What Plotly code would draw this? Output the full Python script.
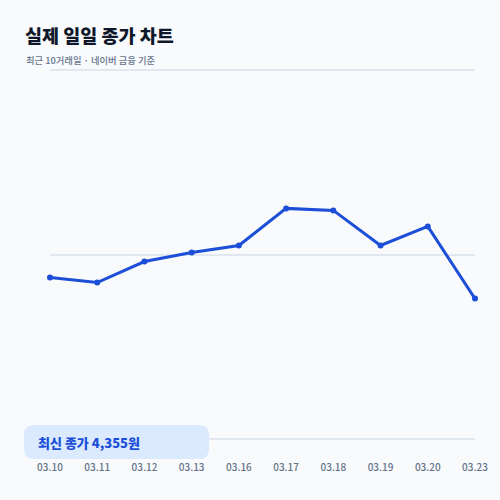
import plotly.graph_objects as go

dates = ["03.10", "03.11", "03.12", "03.13", "03.16", "03.17", "03.18", "03.19", "03.20", "03.23"]
closes = [4376, 4371, 4392, 4401, 4408, 4445, 4443, 4408, 4427, 4355]
grid_vals = [4215, 4399, 4583]

title_text = "실제 일일 종가 차트"
subtitle_text = "최근 10거래일 · 네이버 금융 기준"
badge_text = f"최신 종가 {closes[-1]:,}원"

W, H = 500, 500
ML, MR, MT, MB = 50, 25, 68, 59
PW, PH = W - ML - MR, H - MT - MB

def px(x):
    return (x - ML) / PW

def py(y):
    return (H - MB - y) / PH

FONT = "Noto Sans CJK KR"
BLUE = "#1d4ed8"

fig = go.Figure()
fig.add_trace(go.Scatter(
    x=dates, y=closes, mode="lines+markers",
    line=dict(color=BLUE, width=3),
    marker=dict(color=BLUE, size=6),
    cliponaxis=False, hoverinfo="skip", showlegend=False,
))

# rounded badge
x0, x1, y0, y1, r = 24, 209, 425, 459, 10
path = (
    f"M {px(x0+r)} {py(y0)} L {px(x1-r)} {py(y0)} Q {px(x1)} {py(y0)} {px(x1)} {py(y0+r)} "
    f"L {px(x1)} {py(y1-r)} Q {px(x1)} {py(y1)} {px(x1-r)} {py(y1)} "
    f"L {px(x0+r)} {py(y1)} Q {px(x0)} {py(y1)} {px(x0)} {py(y1-r)} "
    f"L {px(x0)} {py(y0+r)} Q {px(x0)} {py(y0)} {px(x0+r)} {py(y0)} Z"
)
fig.add_shape(type="path", path=path, xref="paper", yref="paper",
              fillcolor="#dbeafe", line=dict(width=0), layer="above")

fig.add_annotation(text=badge_text, x=px(36), y=py(442), xref="paper", yref="paper",
                   xanchor="left", yanchor="middle", showarrow=False,
                   font=dict(family=FONT, size=13, color=BLUE, weight=800))
fig.add_annotation(text=title_text, x=px(23), y=py(35), xref="paper", yref="paper",
                   xanchor="left", yanchor="middle", showarrow=False,
                   font=dict(family=FONT, size=18.5, color="#0f172a", weight=900))
fig.add_annotation(text=subtitle_text, x=px(24), y=py(60), xref="paper", yref="paper",
                   xanchor="left", yanchor="middle", showarrow=False,
                   font=dict(family=FONT, size=9.3, color="#64748b", weight=500))

fig.update_layout(
    width=W, height=H,
    margin=dict(l=ML, r=MR, t=MT, b=MB, pad=0),
    paper_bgcolor="#f8fafc", plot_bgcolor="#f8fafc",
    font=dict(family=FONT),
    xaxis=dict(type="category", range=[0, 9], showgrid=False, zeroline=False, showline=False,
               ticks="", ticklabelstandoff=19,
               tickfont=dict(family=FONT, size=10, color="#64748b", weight=500)),
    yaxis=dict(range=[4213, 4585], tickvals=grid_vals, showticklabels=False,
               showgrid=True, gridcolor="#e2e8f0", gridwidth=2, zeroline=False, showline=False),
)

fig.write_html("out.html", config={"displayModeBar": False},
               post_script="document.body.style.margin='0';document.body.style.padding='0';document.body.style.background='#f8fafc';")
